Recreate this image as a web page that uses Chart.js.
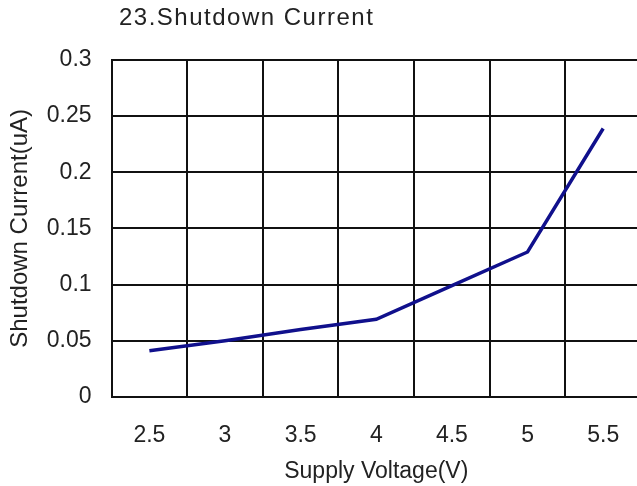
<!DOCTYPE html>
<html>
<head>
<meta charset="utf-8">
<script src="https://cdn.jsdelivr.net/npm/chart.js@4"></script>
<style>
  html, body { margin: 0; padding: 0; background: #fff; overflow: hidden; }
  #wrap { position: relative; width: 645px; height: 486px; }
  #title {
    position: absolute; left: 119px; top: 5px;
    font: 24px/1 "Liberation Sans", Arial, sans-serif; color: #222;
    letter-spacing: 1.5px; white-space: nowrap;
  }
</style>
</head>
<body>
<div id="wrap">
  <div id="title">23.Shutdown Current</div>
  <canvas id="chart" width="645" height="486"></canvas>
</div>
<script>
// ── Data ─────────────────────────────────────────────────────
const voltages     = ['2.5', '3', '3.5', '4', '4.5', '5', '5.5'];
const currentUA    = [0.041, 0.050, 0.060, 0.069, 0.099, 0.129, 0.239];
const yTickLabels  = ['0', '0.05', '0.1', '0.15', '0.2', '0.25', '0.3'];

const FAMILY = '"Liberation Sans", Arial, sans-serif';
const FONT   = { family: FAMILY, size: 23 };
const INK    = '#222';
const GRID   = '#111';

// note: chart.js counts ticks.padding twice when sizing an axis,
// so the title paddings below are negative to pull things back in
new Chart(document.getElementById('chart'), {
    type: 'line',
    data: {
        labels: voltages,
        datasets: [{
            data: currentUA,
            borderColor: '#10108c',
            borderWidth: 3.5,
            pointRadius: 0,
            tension: 0,
        }]
    },
    options: {
        responsive: false,
        animation: false,
        layout: { padding: { left: 6, right: 4, top: 60, bottom: 1 } },
        plugins: { legend: { display: false }, tooltip: { enabled: false } },
        scales: {
            x: {
                offset: true,
                grid: { offset: true, color: GRID, lineWidth: 2, drawTicks: false },
                border: { color: GRID, width: 2 },
                ticks: { color: INK, font: FONT, padding: 25, maxRotation: 0 },
                title: { display: true, text: 'Supply Voltage(V)', color: INK, font: FONT,
                         padding: { top: -17, bottom: 0 } }
            },
            y: {
                min: 0, max: 0.3,
                ticks: { stepSize: 0.05, color: INK, font: FONT, padding: 20,
                         callback: (v, i) => yTickLabels[i] },
                grid: { color: GRID, lineWidth: 2, drawTicks: false },
                border: { color: GRID, width: 2 },
                title: { display: true, text: 'Shutdown Current(uA)', color: INK,
                         font: { family: FAMILY, size: 24 },
                         padding: { top: 0, bottom: -8 } }
            }
        }
    }
});
</script>
</body>
</html>
